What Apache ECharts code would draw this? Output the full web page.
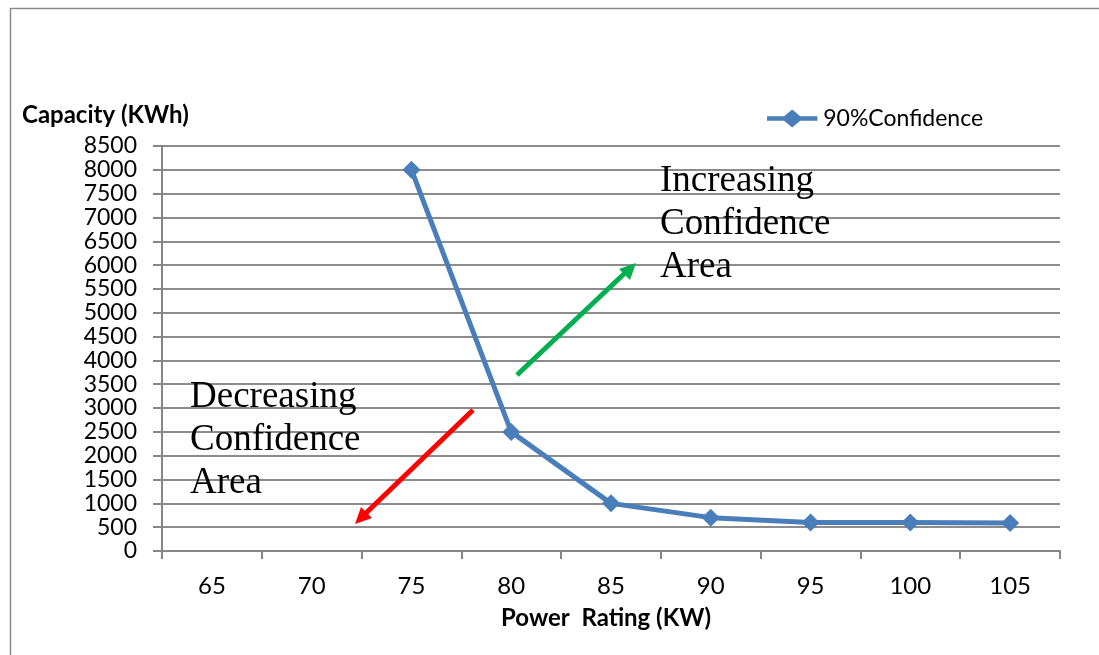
<!DOCTYPE html>
<html><head><meta charset="utf-8">
<script src="https://cdn.jsdelivr.net/npm/echarts@6/dist/echarts.min.js"></script>
<style>html,body{margin:0;padding:0;background:#fff}#c{width:1099px;height:655px}</style>
</head><body><div id="c"></div>
<script>
const categories = ['65','70','75','80','85','90','95','100','105'];
const confidence90 = [null, null, 8000, 2500, 1000, 700, 600, 600, 590];
const seriesName = '90%Confidence';
const yAxisTitle = 'Capacity (KWh)';
const xAxisTitle = 'Power  Rating (KW)';

const chart = echarts.init(document.getElementById('c'));
const FONT = 'Lato';
chart.setOption({
  animation: false,
  backgroundColor: '#fff',
  title: { text: yAxisTitle, left: 17, top: 98, textStyle: { fontFamily: FONT, fontSize: 24, fontWeight: 'bold', color: '#000' } },
  legend: {
    data: [{ name: seriesName, icon: 'path://M0,7.5 L19,7.5 L28,0 L37,7.5 L56,7.5 L56,12.5 L37,12.5 L28,20 L19,12.5 L0,12.5 Z' }],
    left: 762, top: 102, itemWidth: 56, itemHeight: 18, itemGap: 4,
    itemStyle: { color: '#4a7ebb' },
    textStyle: { fontFamily: FONT, fontSize: 23, color: '#000', padding: [0,0,0,-2] }
  },
  grid: { left: 162, right: 39, top: 146, bottom: 104 },
  xAxis: {
    type: 'category', data: categories, boundaryGap: true,
    name: xAxisTitle, nameLocation: 'middle', nameGap: 55,
    nameTextStyle: { fontFamily: FONT, fontSize: 24, fontWeight: 'bold', color: '#000', padding: [0, 10, 0, 0] },
    axisLine: { lineStyle: { color: '#868686', width: 2 } },
    axisTick: { show: true, interval: 0, length: 8, lineStyle: { color: '#868686', width: 2 } },
    axisLabel: { interval: 0, margin: 23, fontFamily: FONT, fontSize: 24, color: '#000' },
    splitLine: { show: false }
  },
  yAxis: {
    type: 'value', min: 0, max: 8500, interval: 500,
    axisLine: { show: true, lineStyle: { color: '#868686', width: 2 } },
    axisTick: { show: true, length: 9, lineStyle: { color: '#868686', width: 2 } },
    axisLabel: { margin: 25, fontFamily: FONT, fontSize: 23, color: '#000', lineHeight: 22, formatter: v => String(v) },
    splitLine: { lineStyle: { color: '#8c8c8c', width: 2 } }
  },
  series: [{
    name: seriesName, type: 'line', data: confidence90,
    symbol: 'diamond', symbolSize: 18, showSymbol: true,
    lineStyle: { color: '#4a7ebb', width: 5 },
    itemStyle: { color: '#4a7ebb' },
    connectNulls: false
  }],
  graphic: [
    { type: 'rect', shape: { x: 10.5, y: 8.5, width: 1200, height: 800 }, style: { fill: 'none', stroke: '#8a8a8a', lineWidth: 1.5 }, z: 100 },
    { type: 'text', left: 660, top: 160, style: { text: 'Increasing\nConfidence\nArea', font: '37px "Liberation Serif"', lineHeight: 43, fill: '#000' }, z: 50 },
    { type: 'text', left: 190, top: 376, style: { text: 'Decreasing\nConfidence\nArea', font: '37px "Liberation Serif"', lineHeight: 43, fill: '#000' }, z: 50 },
    { type: 'line', shape: { x1: 517, y1: 375, x2: 626, y2: 272 }, style: { stroke: '#00b050', lineWidth: 5 }, z: 60 },
    { type: 'polygon', shape: { points: [[636, 263], [619, 269], [630, 280]] }, style: { fill: '#00b050' }, z: 60 },
    { type: 'line', shape: { x1: 473, y1: 410, x2: 365, y2: 514 }, style: { stroke: '#ff0000', lineWidth: 5 }, z: 60 },
    { type: 'polygon', shape: { points: [[355, 524], [361, 507], [372, 518]] }, style: { fill: '#ff0000' }, z: 60 }
  ]
});
</script></body></html>
